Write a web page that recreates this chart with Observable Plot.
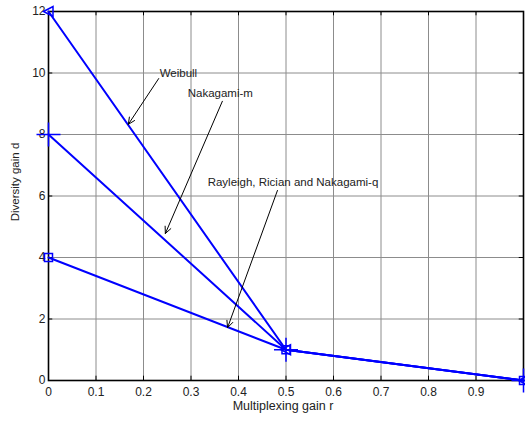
<!DOCTYPE html>
<html>
<head>
<meta charset="utf-8">
<script src="https://cdn.jsdelivr.net/npm/d3@7"></script>
<script src="https://cdn.jsdelivr.net/npm/@observablehq/plot@0.6"></script>
<style>
body { margin: 0; background: #fff; }
svg { font-family: "Liberation Sans", Arial, sans-serif; }
</style>
</head>
<body>
<div id="chart"></div>
<script>
const multiplexingGain = [0, 0.5, 1];
const weibull = [12, 1, 0];
const nakagamiM = [8, 1, 0];
const rayleigh = [4, 1, 0];
const xTicks = [0, 0.1, 0.2, 0.3, 0.4, 0.5, 0.6, 0.7, 0.8, 0.9];
const yTicks = [0, 2, 4, 6, 8, 10, 12];
const gridX = [0.1, 0.2, 0.3, 0.4, 0.5, 0.6, 0.7, 0.8, 0.9];
const gridY = [2, 4, 6, 8, 10];
const labels = ["Weibull", "Nakagami-m", "Rayleigh, Rician and Nakagami-q"];
const labelX = [0.234, 0.293, 0.335];
const labelY = [9.98, 9.33, 6.44];
const arrowX1 = [0.232, 0.366, 0.482];
const arrowY1 = [9.82, 9.08, 6.18];
const arrowX2 = [0.168, 0.246, 0.377];
const arrowY2 = [8.33, 4.78, 1.72];

const mk = (ys) => multiplexingGain.map((x, i) => ({x, y: ys[i]}));
const wData = mk(weibull), nData = mk(nakagamiM), rData = mk(rayleigh);
const annData = labels.map((t, i) => ({t, x: labelX[i], y: labelY[i], x1: arrowX1[i], y1: arrowY1[i], x2: arrowX2[i], y2: arrowY2[i]}));

const rad = (size) => Math.sqrt(size / Math.PI);
const plusSym = {draw(c, size) { const r = rad(size); c.moveTo(-r, 0); c.lineTo(r, 0); c.moveTo(0, -r); c.lineTo(0, r); }};
const triLeft = {draw(c, size) { const r = rad(size); c.moveTo(-r, 0); c.lineTo(r * 0.9, -r); c.lineTo(r * 0.9, r); c.closePath(); }};
const squareSym = {draw(c, size) { const r = rad(size); c.moveTo(-r, -r); c.lineTo(r, -r); c.lineTo(r, r); c.lineTo(-r, r); c.closePath(); }};

const chart = Plot.plot({
  width: 525,
  height: 423,
  marginLeft: 48,
  marginRight: 2,
  marginTop: 11,
  marginBottom: 43,
  style: {fontSize: "12px", fontFamily: "Liberation Sans, Arial, sans-serif", color: "#222"},
  x: {domain: [0, 1]},
  y: {domain: [0, 12]},
  marks: [
    Plot.ruleX(gridX, {stroke: "#8c8c8c", strokeWidth: 1}),
    Plot.ruleY(gridY, {stroke: "#8c8c8c", strokeWidth: 1}),
    Plot.axisX({ticks: xTicks, tickSize: 0, tickPadding: 7, tickFormat: (d) => d === 0 ? "0" : d3.format(".1f")(d), label: null}),
    Plot.axisY({ticks: yTicks, tickSize: 0, tickPadding: 3, label: null}),
    Plot.ruleX(xTicks, {x: (d) => d, y1: 0, y2: 0.14, stroke: "#000"}),
    Plot.ruleX(xTicks, {x: (d) => d, y1: 12, y2: 11.86, stroke: "#000"}),
    Plot.ruleY(yTicks, {y: (d) => d, x1: 0, x2: 0.009, stroke: "#000"}),
    Plot.ruleY(yTicks, {y: (d) => d, x1: 1, x2: 0.991, stroke: "#000"}),
    Plot.text(["Multiplexing gain r"], {frameAnchor: "bottom", dy: 29, dx: -3, fontSize: 12.5, fill: "#222"}),
    Plot.text(["Diversity gain d"], {frameAnchor: "left", textAnchor: "middle", dx: -33, dy: -14, rotate: -90, fontSize: 11.5, fill: "#222"}),
    Plot.frame({stroke: "#000", strokeWidth: 1.6}),
    Plot.line(wData, {x: "x", y: "y", stroke: "#0000ff", strokeWidth: 2}),
    Plot.line(nData, {x: "x", y: "y", stroke: "#0000ff", strokeWidth: 2}),
    Plot.line(rData, {x: "x", y: "y", stroke: "#0000ff", strokeWidth: 2}),
    Plot.dot(wData, {x: "x", y: "y", symbol: triLeft, r: 5, stroke: "#0000ff", strokeWidth: 1.5, fill: "none"}),
    Plot.dot(nData, {x: "x", y: "y", symbol: plusSym, r: 12, stroke: "#0000ff", strokeWidth: 1.5, fill: "none"}),
    Plot.dot(rData, {x: "x", y: "y", symbol: squareSym, r: 4, stroke: "#0000ff", strokeWidth: 1.5, fill: "none"}),
    Plot.arrow(annData, {x1: "x1", y1: "y1", x2: "x2", y2: "y2", stroke: "#000", strokeWidth: 1, headLength: 11, headAngle: 50}),
    Plot.text(annData, {x: "x", y: "y", text: "t", textAnchor: "start", fontSize: 11.5, fill: "#222"})
  ]
});
document.getElementById("chart").appendChild(chart);
</script>
</body>
</html>
